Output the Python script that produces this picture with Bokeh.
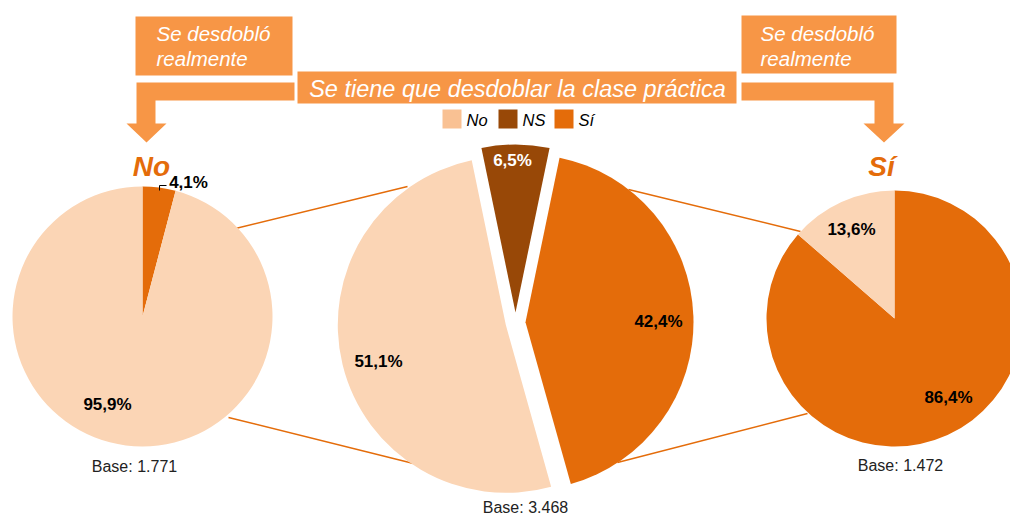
import math
from bokeh.plotting import figure
from bokeh.models import Range1d
from bokeh.core.properties import value
from bokeh.embed import file_html
from bokeh.resources import INLINE

# ---------------- data ----------------
categories = ["No", "NS", "Sí"]
total_pct = [51.1, 6.5, 42.4]        # Se tiene que desdoblar la clase práctica (total)
no_group_pct = [95.9, 0.0, 4.1]      # Se desdobló realmente = No
si_group_pct = [13.6, 0.0, 86.4]     # Se desdobló realmente = Sí
bases = ["1.771", "3.468", "1.472"]  # left, centre, right
header_lines = ["Se desdobló", "realmente"]
title_text = "Se tiene que desdoblar la clase práctica"
group_titles = ["No", "Sí"]

# ---------------- style / layout ----------------
pie_colors = {"No": "#FBD5B5", "NS": "#984807", "Sí": "#E46C0A"}
legend_colors = {"No": "#F9C193", "NS": "#984807", "Sí": "#E46C0A"}
box_color = "#F79646"
line_color = "#E46C0A"
FONT = value("Liberation Sans")

W, H = 1010, 518
IMG_H = 518


def Y(y):
    return IMG_H - y


def fmt(v):
    return f"{v:.1f}".replace(".", ",") + "%"


p = figure(width=W, height=H, x_range=Range1d(0, W), y_range=Range1d(IMG_H - H, IMG_H),
           output_backend="svg", toolbar_location=None, min_border=0)
p.axis.visible = False
p.grid.visible = False
p.outline_line_color = None
p.background_fill_color = "white"
p.border_fill_color = "white"

# ---------------- connector lines (behind pies) ----------------
connectors = [((235, 228), (407, 186)), ((228, 417), (413, 463)),
              ((628, 189), (800, 231)), ((617, 462), (807, 413))]
for (x0, y0), (x1, y1) in connectors:
    p.line([x0, x1], [Y(y0), Y(y1)], line_color=line_color, line_width=1.5)


def draw_pie(cx, cy, r, values, order, start_deg, explode=0.0):
    theta = start_deg
    for cat in order:
        v = values[categories.index(cat)]
        if v <= 0:
            continue
        span = v * 3.6
        t1, t2 = theta, theta + span
        tm = math.radians((t1 + t2) / 2)
        ox = cx + explode * math.sin(tm)
        oy = Y(cy) + explode * math.cos(tm)
        p.wedge(x=ox, y=oy, radius=r,
                start_angle=math.radians(90 - t1), end_angle=math.radians(90 - t2),
                direction="clock", fill_color=pie_colors[cat], line_color=None)
        theta = t2


# left pie: No group
draw_pie(142, 316, 130, no_group_pct, ["Sí", "No"], 0.0)
# centre pie: total, NS centred at top, exploded
draw_pie(515, 322, 168, total_pct, ["NS", "Sí", "No"],
         -total_pct[categories.index("NS")] * 3.6 / 2, explode=10)
# right pie: Sí group
draw_pie(894, 318, 128, si_group_pct, ["Sí", "No"], 0.0)

# ---------------- value labels ----------------
label_pos = {
    ("left", "Sí"): (188, 182, "black"),
    ("left", "No"): (107, 404, "black"),
    ("centre", "NS"): (512, 160, "white"),
    ("centre", "Sí"): (658, 321, "black"),
    ("centre", "No"): (378, 361, "black"),
    ("right", "No"): (851, 229, "black"),
    ("right", "Sí"): (948, 397, "black"),
}
series = {"left": no_group_pct, "centre": total_pct, "right": si_group_pct}
for (pie, cat), (lx, ly, col) in label_pos.items():
    v = series[pie][categories.index(cat)]
    p.text(x=[lx], y=[Y(ly)], text=[fmt(v)], text_font=FONT, text_font_style="bold",
           text_font_size=value("17px"), text_color=col,
           text_align="center", text_baseline="middle")

# leader for 4,1%
p.line([159, 159, 166], [Y(190), Y(185), Y(185)], line_color="black", line_width=1)

# base labels
for (bx, by), b in zip([(134, 466), (525, 507), (900, 465)], bases):
    p.text(x=[bx], y=[Y(by)], text=["Base: " + b], text_font=FONT,
           text_font_size=value("16px"), text_color="#222222",
           text_align="center", text_baseline="middle")

# ---------------- header boxes & arrows ----------------
for (l, r, t, b) in [(135, 292, 16, 75), (741, 896, 15, 73), (297, 736, 71, 103)]:
    p.quad(left=[l], right=[r], top=[Y(t)], bottom=[Y(b)], fill_color=box_color, line_color=None)

left_arrow = [(136, 82), (294, 82), (294, 100), (155, 100), (155, 123), (166, 123),
              (146, 142), (126, 123), (136, 123)]
right_arrow = [(741, 82), (893, 82), (893, 123), (904, 123), (883.5, 142), (863, 123),
               (874, 123), (874, 100), (741, 100)]
for poly in (left_arrow, right_arrow):
    p.patch([q[0] for q in poly], [Y(q[1]) for q in poly], fill_color=box_color, line_color=None)

for x0 in (156, 760):
    for line, mid_y in zip(header_lines, (33, 58)):
        p.text(x=[x0], y=[Y(mid_y)], text=[line], text_font=FONT, text_font_style="italic",
               text_font_size=value("20.5px"), text_color="white",
               text_align="left", text_baseline="middle")

p.text(x=[517], y=[Y(88)], text=[title_text], text_font=FONT, text_font_style="italic",
       text_font_size=value("23.5px"), text_color="white",
       text_align="center", text_baseline="middle")

# ---------------- legend ----------------
leg_x = [442, 498, 554]
for cat, lx in zip(categories, leg_x):
    p.quad(left=[lx], right=[lx + 19], top=[Y(109)], bottom=[Y(128)],
           fill_color=legend_colors[cat], line_color=None)
    p.text(x=[lx + 24], y=[Y(119)], text=[cat], text_font=FONT, text_font_style="italic",
           text_font_size=value("16.5px"), text_color="black",
           text_align="left", text_baseline="middle")

# ---------------- group titles ----------------
for (gx, gy), g in zip([(151, 166), (881, 166)], group_titles):
    p.text(x=[gx], y=[Y(gy)], text=[g], text_font=FONT, text_font_style="bold italic",
           text_font_size=value("28px"), text_color="#E46C0A",
           text_align="center", text_baseline="middle")

open("out.html", "w").write(file_html(p, INLINE))
